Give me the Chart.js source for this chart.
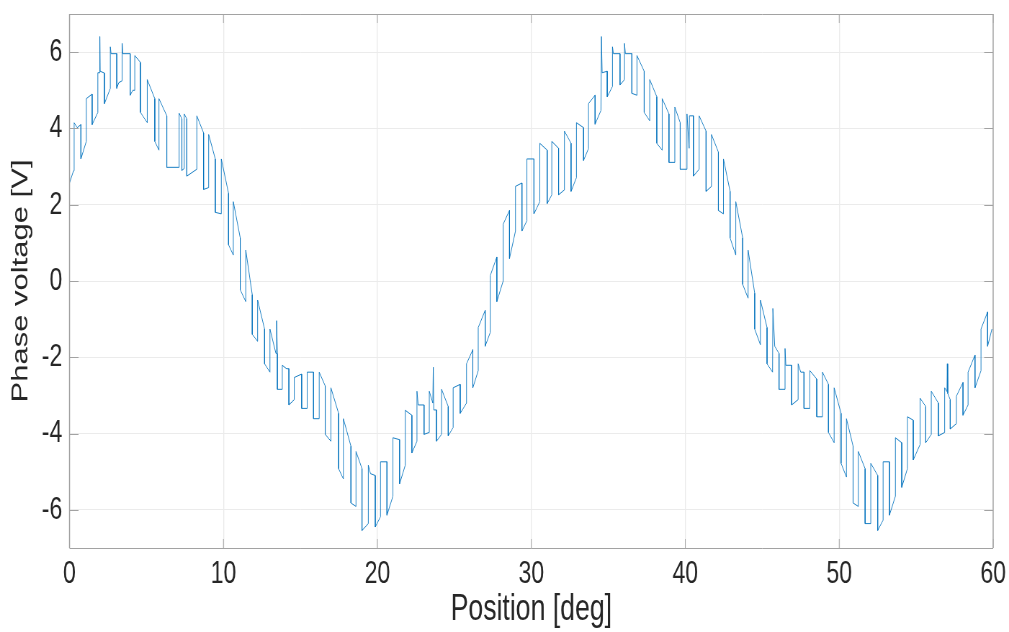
<!DOCTYPE html>
<html>
<head>
<meta charset="utf-8">
<title>Phase voltage vs position</title>
<script src="https://cdn.jsdelivr.net/npm/chart.js@4.4.1/dist/chart.umd.min.js"></script>
<style>
  html, body { margin: 0; padding: 0; background: #fff; overflow: hidden; }
  #wrap { width: 1009px; height: 632px; overflow: hidden; }
  /* the reference figure is horizontally squeezed, so draw wide and squeeze */
  #phase { display: block; transform: scaleX(0.7202); transform-origin: 0 0; }
</style>
</head>
<body>
<div id="wrap"><canvas id="phase" width="1401" height="632"></canvas></div>
<script>
// tick labels
const posTicks = [0, 10, 20, 30, 40, 50, 60];
const voltTicks = [-6, -4, -2, 0, 2, 4, 6];

const span0to10 = [
  [0.00,2.57],[0.26,2.89],[0.30,2.89],[0.30,4.15],[0.50,4.02],[0.74,4.10],[0.74,3.20],[1.09,3.66],
  [1.09,4.78],[1.47,4.90],[1.47,4.10],[1.84,4.42],[1.84,5.46],[1.97,5.46],[1.97,6.41],[1.99,5.50],
  [2.27,5.45],[2.27,4.65],[2.65,5.05],[2.65,6.14],[2.70,5.96],[3.07,5.96],[3.07,5.05],[3.20,5.20],
  [3.42,5.25],[3.42,6.23],[3.46,5.96],[3.94,5.96],[3.94,4.87],[4.11,5.00],[4.24,5.00],[4.24,5.91],
  [4.61,5.73],[4.61,4.42],[5.05,4.15],[5.05,5.28],[5.54,4.78],[5.54,3.66],[5.81,3.43],[5.81,4.78],
  [6.32,4.33],[6.32,2.98],[7.12,2.98],[7.12,4.40],[7.30,4.25],[7.30,2.90],[7.45,2.95],[7.45,4.38],
  [7.62,4.25],[7.62,2.75],[8.27,2.93],[8.27,4.33],[8.71,3.88],[8.71,2.40],[9.04,2.45],[9.04,3.84],
  [9.47,3.20],[9.47,1.80],[9.86,1.76],[9.86,3.20]
];
const span10to20 = [
  [10.33,2.30],[10.33,0.95],[10.64,0.68],[10.64,2.08],[11.09,1.13],[11.09,-0.23],[11.45,-0.54],[11.45,0.81],
  [11.87,-0.36],[11.87,-1.40],[12.22,-1.58],[12.22,-0.50],[12.67,-1.26],[12.67,-2.17],[13.02,-2.39],[13.02,-1.26],
  [13.41,-1.90],[13.45,-1.04],[13.50,-1.90],[13.50,-2.84],[13.82,-2.84],[13.82,-2.21],[14.10,-2.30],[14.25,-2.30],
  [14.25,-3.25],[14.60,-3.11],[14.60,-2.53],[15.08,-2.44],[15.08,-3.34],[15.44,-3.34],[15.44,-2.39],[15.85,-2.39],
  [15.85,-3.61],[16.22,-3.61],[16.22,-2.39],[16.61,-2.75],[16.61,-4.02],[16.98,-4.20],[16.98,-2.80],[17.48,-3.47],
  [17.48,-4.92],[17.79,-5.19],[17.79,-3.61],[18.28,-4.33],[18.28,-5.82],[18.61,-5.91],[18.61,-4.47],[19.00,-4.92],
  [19.00,-6.54],[19.41,-6.36],[19.41,-4.83],[19.55,-5.05],[19.86,-5.10],[19.86,-6.45]
];
const span20to30 = [
  [20.20,-6.18],[20.20,-4.74],[20.62,-4.74],[20.62,-6.14],[21.01,-5.64],[21.01,-4.11],[21.44,-4.16],[21.44,-5.32],
  [21.81,-4.83],[21.81,-3.39],[22.24,-3.52],[22.24,-4.51],[22.57,-4.20],[22.57,-2.89],[22.65,-3.25],[23.03,-3.25],
  [23.03,-4.02],[23.37,-3.97],[23.37,-2.89],[23.60,-3.20],[23.63,-2.26],[23.66,-3.38],[23.84,-3.38],[23.84,-4.20],
  [24.17,-4.02],[24.17,-2.84],[24.60,-3.29],[24.60,-4.06],[24.92,-3.84],[24.92,-2.80],[25.38,-2.71],[25.38,-3.47],
  [25.79,-3.20],[25.79,-2.17],[26.20,-1.80],[26.20,-2.80],[26.55,-2.35],[26.55,-1.22],[27.00,-0.77],[27.00,-1.71],
  [27.33,-1.35],[27.33,0.14],[27.76,0.63],[27.76,-0.54],[28.17,0.00],[28.17,1.49],[28.58,1.85],[28.58,0.59],
  [28.97,1.31],[28.97,2.48],[29.39,2.57],[29.39,1.31],[29.71,1.58],[29.71,3.20]
];
const span30to40 = [
  [30.17,3.20],[30.17,1.76],[30.55,2.08],[30.55,3.61],[31.03,3.43],[31.03,2.03],[31.33,2.26],[31.33,3.66],
  [31.77,3.48],[31.77,2.26],[32.15,2.39],[32.15,3.93],[32.58,3.61],[32.58,2.35],[32.93,2.71],[32.93,4.15],
  [33.39,4.02],[33.39,3.16],[33.71,3.47],[33.71,4.65],[34.14,4.87],[34.14,4.11],[34.52,4.47],[34.55,6.41],
  [34.60,5.46],[34.93,5.50],[34.93,4.83],[35.27,5.10],[35.27,6.14],[35.33,5.96],[35.76,5.96],[35.76,5.14],
  [36.05,5.28],[36.05,6.23],[36.11,5.96],[36.53,5.96],[36.53,4.92],[36.86,4.87],[36.86,5.91],[37.33,5.50],
  [37.33,4.42],[37.69,4.20],[37.69,5.28],[38.15,4.83],[38.15,3.61],[38.50,3.43],[38.50,4.78],[38.94,4.38],
  [38.94,3.11],[39.32,3.11],[39.32,4.56],[39.67,4.15],[39.67,2.93]
];
const span40to50 = [
  [40.11,2.93],[40.11,4.38],[40.25,3.48],[40.27,4.33],[40.53,4.33],[40.53,2.75],[40.90,2.93],[40.90,4.33],
  [41.35,3.93],[41.35,2.35],[41.70,2.48],[41.70,3.84],[42.15,3.38],[42.15,1.85],[42.48,1.76],[42.48,3.20],
  [42.91,2.35],[42.91,1.13],[43.28,0.68],[43.28,2.08],[43.73,1.13],[43.73,-0.09],[44.08,-0.45],[44.08,0.81],
  [44.51,-0.32],[44.51,-1.26],[44.88,-1.67],[44.88,-0.50],[45.31,-1.22],[45.31,-2.17],[45.67,-2.39],[45.69,-0.72],
  [45.81,-1.71],[46.09,-1.90],[46.09,-2.84],[46.48,-2.84],[46.48,-1.77],[46.53,-2.21],[46.91,-2.21],[46.91,-3.25],
  [47.33,-3.11],[47.33,-2.17],[47.50,-2.39],[47.71,-2.39],[47.71,-3.34],[48.09,-3.34],[48.09,-2.35],[48.54,-2.57],
  [48.54,-3.56],[48.91,-3.56],[48.91,-2.39],[49.30,-2.71],[49.30,-3.97],[49.67,-4.24],[49.67,-2.80]
];
const span50to60 = [
  [50.12,-3.47],[50.12,-4.78],[50.47,-5.14],[50.47,-3.61],[50.90,-4.33],[50.90,-5.82],[51.24,-5.91],[51.24,-4.47],
  [51.68,-4.92],[51.68,-6.36],[52.05,-6.36],[52.05,-4.78],[52.50,-5.10],[52.50,-6.54],[52.85,-6.27],[52.85,-4.74],
  [53.26,-4.74],[53.26,-6.14],[53.65,-5.64],[53.65,-4.11],[54.06,-4.24],[54.06,-5.41],[54.43,-4.92],[54.43,-3.56],
  [54.81,-3.65],[54.81,-4.69],[55.25,-4.29],[55.25,-3.07],[55.62,-3.29],[55.62,-4.24],[55.98,-4.02],[55.98,-2.89],
  [56.44,-3.20],[56.44,-4.06],[56.85,-3.97],[56.85,-2.80],[57.00,-2.90],[57.02,-2.17],[57.05,-2.95],[57.21,-3.11],
  [57.21,-3.88],[57.61,-3.74],[57.61,-3.02],[58.04,-2.66],[58.04,-3.52],[58.37,-3.25],[58.37,-2.39],[58.82,-1.94],
  [58.82,-2.80],[59.21,-2.35],[59.21,-1.26],[59.64,-0.81],[59.64,-1.71],[59.92,-1.26]
];

const trace = [].concat(span0to10, span10to20, span20to30, span30to40, span40to50, span50to60)
  .map(([x, y]) => ({ x, y }));

const FONT = "'Liberation Sans', Arial, Helvetica, sans-serif";
const TEXT = '#262626';
const FRAME = '#a2a2a2';
const GRID = '#ebebeb';

// matlab style box: frame on all four sides with ticks pointing inward
const boxPlugin = {
  id: 'box',
  afterDatasetsDraw(chart) {
    const { ctx, chartArea: a, scales } = chart;
    const al = v => Math.round(v) + 0.5;
    const tickV = 9, tickH = 12.5;
    ctx.save();
    ctx.strokeStyle = FRAME;

    ctx.lineWidth = 1;
    ctx.beginPath();
    ctx.moveTo(a.left, al(a.top)); ctx.lineTo(a.right, al(a.top));
    ctx.moveTo(a.left, al(a.bottom)); ctx.lineTo(a.right, al(a.bottom));
    posTicks.forEach(v => {
      const px = scales.x.getPixelForValue(v);
      ctx.moveTo(px, a.bottom); ctx.lineTo(px, a.bottom - tickV);
      ctx.moveTo(px, a.top); ctx.lineTo(px, a.top + tickV);
    });
    ctx.stroke();

    ctx.lineWidth = 1.4;
    ctx.beginPath();
    ctx.moveTo(a.left, a.top); ctx.lineTo(a.left, a.bottom);
    ctx.moveTo(a.right, a.top); ctx.lineTo(a.right, a.bottom);
    ctx.stroke();

    ctx.lineWidth = 1;
    ctx.beginPath();
    voltTicks.forEach(v => {
      const py = al(scales.y.getPixelForValue(v));
      ctx.moveTo(a.left, py); ctx.lineTo(a.left + tickH, py);
      ctx.moveTo(a.right, py); ctx.lineTo(a.right - tickH, py);
    });
    ctx.stroke();
    ctx.restore();
  }
};

new Chart(document.getElementById('phase'), {
  type: 'line',
  data: {
    datasets: [{
      label: 'Phase voltage',
      data: trace,
      borderColor: '#0072BD',
      borderWidth: 0.9,
      pointRadius: 0,
      tension: 0,
      fill: false
    }]
  },
  options: {
    responsive: false,
    devicePixelRatio: 1,
    animation: false,
    layout: { padding: { left: 0, right: 22, top: 14, bottom: 0 } },
    plugins: { legend: { display: false }, tooltip: { enabled: false } },
    scales: {
      x: {
        type: 'linear',
        min: 0,
        max: 60,
        afterBuildTicks: s => { s.ticks = posTicks.map(v => ({ value: v })); },
        afterFit: s => { s.height = 84; s.paddingLeft = 0; s.paddingRight = 0; },
        grid: { color: GRID, lineWidth: 1.4, drawTicks: false },
        border: { display: false },
        ticks: { color: TEXT, font: { family: FONT, size: 32 }, padding: 7, maxRotation: 0, autoSkip: false },
        title: {
          display: true, text: 'Position [deg]', color: TEXT,
          font: { family: FONT, size: 37 }, padding: { top: 0, bottom: 0 }
        }
      },
      y: {
        type: 'linear',
        min: -7,
        max: 7,
        afterBuildTicks: s => { s.ticks = voltTicks.map(v => ({ value: v })); },
        afterFit: s => { s.width = 96.5; s.paddingTop = 0; s.paddingBottom = 0; },
        grid: { color: GRID, lineWidth: 1, drawTicks: false },
        border: { display: false },
        ticks: { color: TEXT, font: { family: FONT, size: 32 }, padding: 10, autoSkip: false },
        title: {
          display: true, text: 'Phase voltage [V]', color: TEXT,
          font: { family: FONT, size: 31 }, padding: { top: 11, bottom: 0 }
        }
      }
    }
  },
  plugins: [boxPlugin]
});
</script>
</body>
</html>
